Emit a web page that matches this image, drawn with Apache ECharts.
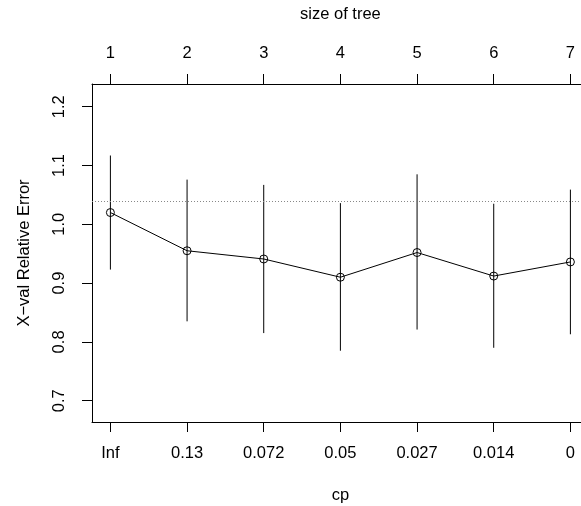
<!DOCTYPE html>
<html>
<head>
<meta charset="utf-8">
<script src="https://cdn.jsdelivr.net/npm/echarts@6/dist/echarts.min.js"></script>
<style>html,body{margin:0;padding:0;background:#fff;overflow:hidden}#c{width:581px;height:506px}</style>
</head>
<body>
<div id="c"></div>
<script>
const cpLabels = ['Inf', '0.13', '0.072', '0.05', '0.027', '0.014', '0'];
const treeSizes = [1, 2, 3, 4, 5, 6, 7];
const xerror = [1.020, 0.955, 0.941, 0.910, 0.952, 0.912, 0.936];
const upper = [1.117, 1.076, 1.067, 1.036, 1.085, 1.035, 1.059];
const lower = [0.923, 0.835, 0.815, 0.785, 0.821, 0.790, 0.813];
const threshold = 1.036;
const yTicks = [0.7, 0.8, 0.9, 1.0, 1.1, 1.2];

const pos = treeSizes.map((s, i) => i + 1);
const font = "'Liberation Sans', Arial, Helvetica, sans-serif";
const fs = 16.5;
const axisLineStyle = { show: true, onZero: false, lineStyle: { color: '#000', width: 1 } };
const chart = echarts.init(document.getElementById('c'));

chart.setOption({
  animation: false,
  backgroundColor: '#fff',
  grid: { left: 92, top: 84, width: 496.8, height: 338, outerBoundsMode: 'none', containLabel: false,
    show: false },
  xAxis: [
    {
      type: 'value', position: 'bottom', min: 0.76, max: 7.24,
      name: 'cp', nameLocation: 'middle', nameGap: 65,
      nameTextStyle: { fontFamily: font, fontSize: fs, color: '#000' },
      axisLine: axisLineStyle,
      splitLine: { show: false },
      axisTick: { show: true, inside: false, length: 10, customValues: pos, lineStyle: { color: '#000', width: 1 } },
      axisLabel: { show: true, customValues: pos, margin: 23, fontFamily: font, fontSize: fs, color: '#000',
        formatter: v => cpLabels[Math.round(v) - 1] }
    },
    {
      type: 'value', position: 'top', min: 0.76, max: 7.24,
      name: 'size of tree', nameLocation: 'middle', nameGap: 61,
      nameTextStyle: { fontFamily: font, fontSize: fs, color: '#000' },
      axisLine: axisLineStyle,
      splitLine: { show: false },
      axisTick: { show: true, inside: false, length: 10, customValues: pos, lineStyle: { color: '#000', width: 1 } },
      axisLabel: { show: true, customValues: pos, margin: 22, fontFamily: font, fontSize: fs, color: '#000',
        formatter: v => String(treeSizes[Math.round(v) - 1]) }
    }
  ],
  yAxis: {
    type: 'value', position: 'left', min: 0.6638, max: 1.2386,
    name: 'X\u2212val Relative Error', nameLocation: 'middle', nameGap: 59, nameRotate: 90,
    nameTextStyle: { fontFamily: font, fontSize: fs, color: '#000' },
    axisLine: axisLineStyle,
    splitLine: { show: false },
    axisTick: { show: true, length: 10, customValues: yTicks, lineStyle: { color: '#000', width: 1 } },
    axisLabel: { show: true, customValues: yTicks, rotate: 90, margin: 24, fontFamily: font, fontSize: fs, color: '#000',
      formatter: v => v.toFixed(1) }
  },
  series: [
    {
      type: 'custom',
      xAxisIndex: 0,
      data: pos.map((p, i) => [p, lower[i], upper[i]]),
      encode: { x: 0, y: [1, 2] },
      renderItem: (params, api) => {
        const x = api.value(0);
        const a = api.coord([x, api.value(1)]);
        const b = api.coord([x, api.value(2)]);
        return { type: 'line', shape: { x1: a[0], y1: a[1], x2: b[0], y2: b[1] },
          style: { stroke: '#000', lineWidth: 1 } };
      },
      silent: true
    },
    {
      type: 'line',
      xAxisIndex: 0,
      data: pos.map((p, i) => [p, xerror[i]]),
      symbol: 'circle',
      symbolSize: 8,
      showAllSymbol: true,
      lineStyle: { color: '#000', width: 1 },
      itemStyle: { color: 'transparent', borderColor: '#000', borderWidth: 1 },
      markLine: {
        silent: true, symbol: 'none', label: { show: false },
        lineStyle: { color: '#888', width: 1, type: [1, 2] },
        data: [{ yAxis: threshold }]
      }
    }
  ]
});
</script>
</body>
</html>
